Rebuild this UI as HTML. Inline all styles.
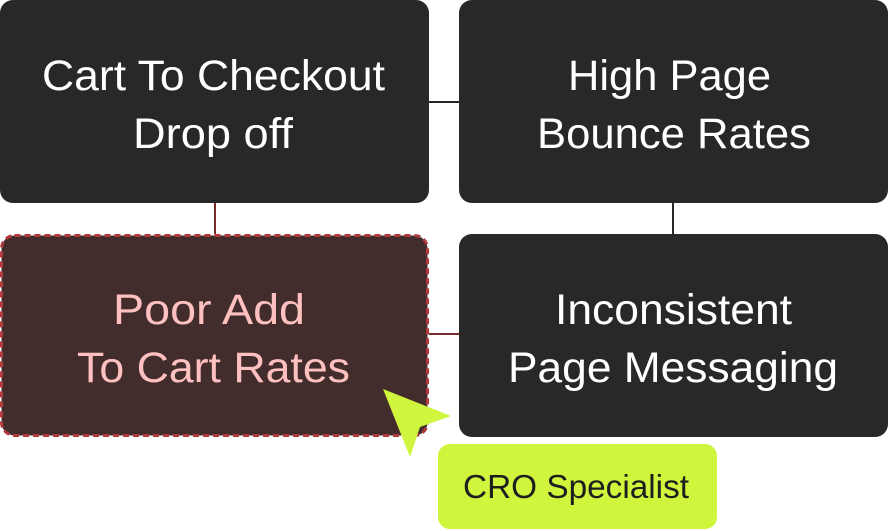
<!DOCTYPE html>
<html><head><meta charset="utf-8"><style>
html,body{margin:0;padding:0;background:#fff;}
svg{display:block}
text{font-family:"Liberation Sans",sans-serif;}
</style></head><body>
<svg width="888" height="531" viewBox="0 0 888 531" xmlns="http://www.w3.org/2000/svg">
<line x1="429" y1="102" x2="459" y2="102" stroke="#282828" stroke-width="2"/>
<line x1="215" y1="203" x2="215" y2="234" stroke="#7a2a2a" stroke-width="2"/>
<line x1="673" y1="203" x2="673" y2="234" stroke="#282828" stroke-width="2"/>
<line x1="429" y1="334" x2="459" y2="334" stroke="#7a2a2a" stroke-width="2"/>
<rect x="0" y="0" width="429" height="203" rx="13" fill="#282828"/>
<rect x="459" y="0" width="429" height="203" rx="13" fill="#282828"/>
<rect x="1.5" y="235.5" width="426" height="200" rx="13" fill="#422c2c" stroke="#b3383a" stroke-width="3" stroke-dasharray="6 4"/>
<rect x="459" y="234" width="429" height="203" rx="13" fill="#282828"/>
<rect x="438" y="444" width="279" height="85" rx="12" fill="#cff53c"/>
<g font-size="43" fill="#fff">
<text x="42" y="90" textLength="343" lengthAdjust="spacingAndGlyphs">Cart To Checkout</text>
<text x="133" y="148" textLength="160" lengthAdjust="spacingAndGlyphs">Drop off</text>
<text x="568" y="90" textLength="203" lengthAdjust="spacingAndGlyphs">High Page</text>
<text x="537" y="148" textLength="274" lengthAdjust="spacingAndGlyphs">Bounce Rates</text>
<text x="555" y="324" textLength="237" lengthAdjust="spacingAndGlyphs">Inconsistent</text>
<text x="508" y="382" textLength="330" lengthAdjust="spacingAndGlyphs">Page Messaging</text>
</g>
<g font-size="43" fill="#ffc0c0">
<text x="113" y="324" textLength="192" lengthAdjust="spacingAndGlyphs">Poor Add</text>
<text x="77" y="382" textLength="273" lengthAdjust="spacingAndGlyphs">To Cart Rates</text>
</g>
<text x="463" y="498" font-size="33" fill="#1e1e1e" textLength="226" lengthAdjust="spacingAndGlyphs">CRO Specialist</text>
<polygon points="383,389 451,416 420,427 410,457" fill="#cff53c"/>
</svg>
</body></html>
